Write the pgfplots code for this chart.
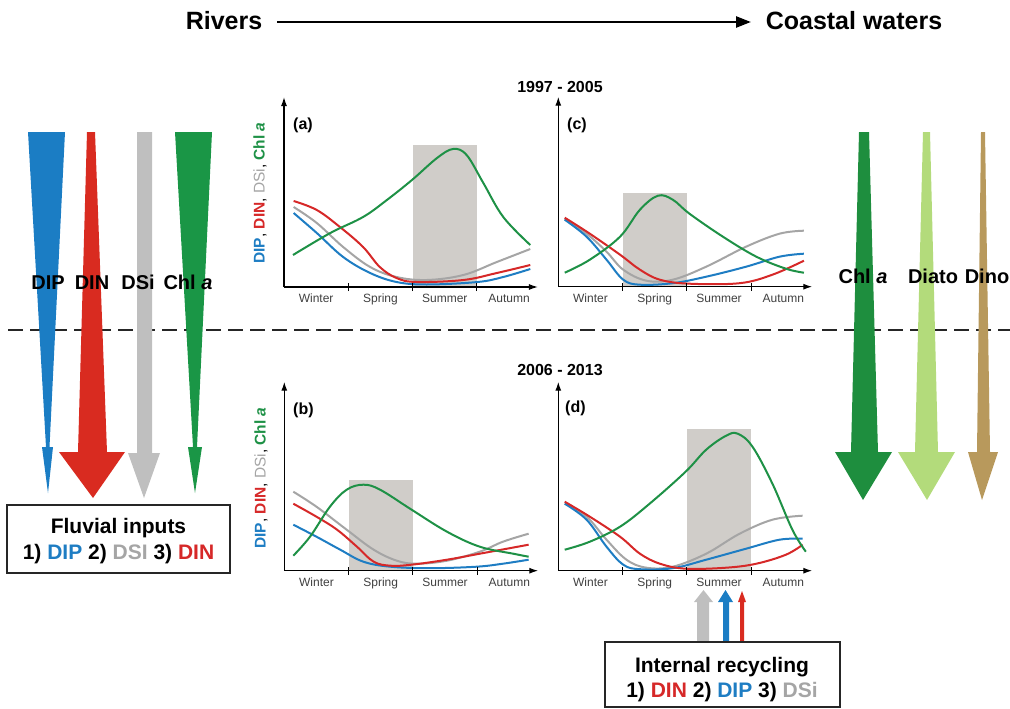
\documentclass[border=0pt]{standalone}
\usepackage{pgfplots}
\pgfplotsset{compat=1.18}
\usetikzlibrary{arrows.meta}
\usepackage{fontspec}
\setmainfont{Liberation Sans}
\definecolor{cblue}{RGB}{30,125,195}
\definecolor{cred}{RGB}{214,40,40}
\definecolor{cgray}{RGB}{165,165,165}
\definecolor{cgreen}{RGB}{30,145,70}
\definecolor{shade}{RGB}{208,205,201}
\definecolor{lblue}{RGB}{27,125,196}
\definecolor{lred}{RGB}{217,43,32}
\definecolor{lgray}{RGB}{191,191,191}
\definecolor{lgreen}{RGB}{26,150,70}
\definecolor{rdgreen}{RGB}{30,142,62}
\definecolor{rlgreen}{RGB}{179,219,123}
\definecolor{rtan}{RGB}{184,153,92}
\newcommand{\fs}[1]{\fontsize{#1}{#1}\selectfont}
\pgfplotsset{
  panel/.style={
    x=64.3pt, y=1pt,
    xmin=0, xmax=3.95, ymin=0, ymax=190,
    axis lines=left,
    axis line style={line width=1.3pt, -{Latex[length=9pt,width=6pt]}},
    xtick={1,2,3}, xticklabels={,,},
    xtick align=center, major tick length=8pt,
    tick style={line width=1pt, black},
    extra x ticks={0.5,1.5,2.5,3.5},
    extra x tick labels={Winter,Spring,Summer,Autumn},
    extra x tick style={major tick length=0pt},
    ytick=\empty,
    tick label style={font=\fs{12}, text=black!75},
    xticklabel style={anchor=north, yshift=-3pt, text height=9pt, text depth=2.5pt},
    axis on top,
    clip=false,
  },
  crv/.style={smooth, tension=0.6, line width=2pt, no marks},
}
\begin{document}
\begin{tikzpicture}[x=1pt,y=1pt]
\path[use as bounding box] (0,0) rectangle (1010,-709);

% header
\node[font=\fs{25}\bfseries, anchor=base] at (224,-30) {Rivers};
\draw[line width=2.5pt, -{Triangle[length=15pt,width=11pt]}] (277,-22) -- (751,-22);
\node[font=\fs{25}\bfseries, anchor=base] at (854,-30) {Coastal waters};
\node[font=\fs{16}\bfseries, anchor=base] at (560,-92.5) {1997 - 2005};
\node[font=\fs{16}\bfseries, anchor=base] at (560,-375) {2006 - 2013};

% dashed separator
\draw[line width=2.5pt, dash pattern=on 15pt off 7pt, black!85] (8,-330) -- (1010,-330);

% left arrows
\fill[lblue] (28,-132) -- (65,-132) -- (49.5,-447) -- (53,-447) -- (48,-493) -- (42,-447) -- (46,-447) -- cycle;
\fill[lred] (87,-132) -- (95,-132) -- (107,-452) -- (125,-452) -- (93,-498) -- (59,-452) -- (78,-452) -- cycle;
\fill[lgray] (137,-132) -- (152,-132) -- (152,-453) -- (160,-453) -- (144,-498) -- (128,-453) -- (137,-453) -- cycle;
\fill[lgreen] (175,-132) -- (212,-132) -- (197,-447) -- (202,-447) -- (195,-493) -- (188,-447) -- (193,-447) -- cycle;

% right arrows
\fill[rdgreen] (859,-132) -- (869,-132) -- (878,-452) -- (892,-452) -- (863,-500) -- (835,-452) -- (851,-452) -- cycle;
\fill[rlgreen] (923,-132) -- (930,-132) -- (938,-452) -- (955,-452) -- (927,-500) -- (898,-452) -- (915,-452) -- cycle;
\fill[rtan] (981,-132) -- (985,-132) -- (990,-452) -- (998,-452) -- (982,-500) -- (968,-452) -- (977,-452) -- cycle;

% arrow labels
\node[font=\fs{20}\bfseries, anchor=base] at (48,-289) {DIP};
\node[font=\fs{20}\bfseries, anchor=base] at (92,-289) {DIN};
\node[font=\fs{20}\bfseries, anchor=base] at (138,-289) {DSi};
\node[font=\fs{20}\bfseries, anchor=base] at (188,-289) {Chl \textit{a}};
\node[font=\fs{20}\bfseries, anchor=base] at (863,-283) {Chl \textit{a}};
\node[font=\fs{20}\bfseries, anchor=base] at (933,-283) {Diato};
\node[font=\fs{20}\bfseries, anchor=base] at (987,-283) {Dino};

% fluvial box
\draw[line width=1.2pt, black!85, fill=white] (7,-505) rectangle (230,-573);
\node[font=\fs{21}\bfseries, anchor=base] at (118.5,-533) {Fluvial inputs};
\node[font=\fs{21}\bfseries, anchor=base] at (118.5,-559) {1) \textcolor{cblue}{DIP} 2) \textcolor{cgray}{DSI} 3) \textcolor{cred}{DIN}};

% internal recycling arrows and box
\fill[lgray] (697,-642) -- (697,-602) -- (694,-602) -- (703.5,-590) -- (713,-602) -- (709,-602) -- (709,-642) -- cycle;
\fill[lblue] (723,-642) -- (723,-602) -- (718,-602) -- (725.5,-590) -- (733,-602) -- (729,-602) -- (729,-642) -- cycle;
\fill[lred] (740,-642) -- (740,-602) -- (738,-602) -- (742,-591) -- (746,-602) -- (744,-602) -- (744,-642) -- cycle;
\draw[line width=1.2pt, black!85, fill=white] (605,-642) rectangle (840,-707);
\node[font=\fs{21}\bfseries, anchor=base] at (722,-672) {Internal recycling};
\node[font=\fs{21}\bfseries, anchor=base] at (722,-697) {1) \textcolor{cred}{DIN} 2) \textcolor{cblue}{DIP} 3) \textcolor{cgray}{DSi}};

% y labels
\node[font=\fs{15.5}, rotate=90, anchor=center] at (260,-193) {\textbf{\textcolor{cblue}{DIP}}, \textbf{\textcolor{cred}{DIN}}, \textcolor{cgray}{DSi}, \textbf{\textcolor{cgreen}{Chl \textit{a}}}};
\node[font=\fs{15.5}, rotate=90, anchor=center] at (261,-478) {\textbf{\textcolor{cblue}{DIP}}, \textbf{\textcolor{cred}{DIN}}, \textcolor{cgray}{DSi}, \textbf{\textcolor{cgreen}{Chl \textit{a}}}};

% panel labels
\node[font=\fs{16}\bfseries, anchor=base west, inner sep=0pt] at (293,-129) {(a)};
\node[font=\fs{16}\bfseries, anchor=base west, inner sep=0pt] at (567,-129) {(c)};
\node[font=\fs{16}\bfseries, anchor=base west, inner sep=0pt] at (293,-414) {(b)};
\node[font=\fs{16}\bfseries, anchor=base west, inner sep=0pt] at (565,-412) {(d)};

% ---- panel (a)
\begin{axis}[panel, at={(284pt,-287pt)}, anchor=south west]
\addplot[fill=shade, draw=none] coordinates {(2,0) (2,142) (3,142) (3,0)} -- cycle;
\addplot[crv, cgray] coordinates {(0.15,80)(0.51,64)(0.92,40)(1.34,20)(1.75,10)(2.22,7)(2.79,12)(3.31,25)(3.83,38)};
\addplot[crv, cblue] coordinates {(0.15,74)(0.51,54)(0.92,30)(1.34,14)(1.75,5)(2.22,2.5)(3.01,5)(3.41,10)(3.83,18)};
\addplot[crv, cred] coordinates {(0.15,86)(0.51,77)(0.87,60)(1.23,40)(1.49,20)(1.75,9)(2.06,5)(2.79,7)(3.31,14)(3.83,22)};
\addplot[crv, cgreen] coordinates {(0.14,32)(0.72,54)(1.23,70)(1.60,87)(1.99,107)(2.38,129)(2.63,138)(2.84,132)(3.10,104)(3.41,70)(3.83,42)};
\end{axis}

% ---- panel (c)
\begin{axis}[panel, at={(558.3pt,-286.7pt)}, anchor=south west]
\addplot[fill=shade, draw=none] coordinates {(1,0) (1,94) (2,94) (2,0)} -- cycle;
\addplot[crv, cgray] coordinates {(0.10,68)(0.44,53)(0.75,35)(1.01,17)(1.37,6)(1.78,7)(2.30,20)(2.92,40)(3.44,53)(3.82,56)};
\addplot[crv, cblue] coordinates {(0.10,67)(0.44,50)(0.75,27)(1.01,7)(1.27,2)(1.78,3.5)(2.30,10)(2.92,20)(3.44,30)(3.82,33)};
\addplot[crv, cred] coordinates {(0.10,69)(0.49,53)(0.96,32)(1.27,17)(1.58,7)(2.04,3)(2.82,3.5)(3.33,12)(3.82,26)};
\addplot[crv, cgreen] coordinates {(0.10,14)(0.49,27)(0.96,50)(1.27,77)(1.55,91)(1.78,87)(2.04,73)(2.56,50)(3.08,30)(3.54,18)(3.82,14)};
\end{axis}

% ---- panel (b)
\begin{axis}[panel, at={(284.3pt,-570.7pt)}, anchor=south west, ymax=189]
\addplot[fill=shade, draw=none] coordinates {(1,0) (1,91) (2,91) (2,0)} -- cycle;
\addplot[crv, cgray] coordinates {(0.14,79)(0.50,64)(0.97,41)(1.39,21)(1.75,10)(2.06,7)(2.53,10)(3.04,19)(3.40,29)(3.80,37)};
\addplot[crv, cblue] coordinates {(0.14,46)(0.50,34)(0.87,21)(1.23,9)(1.65,4)(2.27,2.5)(2.99,4)(3.40,7)(3.80,11)};
\addplot[crv, cred] coordinates {(0.14,67)(0.50,54)(0.82,41)(1.13,24)(1.39,9)(1.65,5)(1.98,6)(2.53,11)(3.04,17)(3.80,26)};
\addplot[crv, cgreen] coordinates {(0.14,15)(0.40,34)(0.71,64)(0.97,81)(1.23,86)(1.49,81)(1.98,61)(2.53,39)(3.04,24)(3.56,17)(3.80,14)};
\end{axis}

% ---- panel (d)
\begin{axis}[panel, at={(558.3pt,-570.7pt)}, anchor=south west, ymax=189]
\addplot[fill=shade, draw=none] coordinates {(2,0) (2,142) (3,142) (3,0)} -- cycle;
\addplot[crv, cgray] coordinates {(0.10,67)(0.44,54)(0.75,31)(1.06,11)(1.37,3)(1.78,4)(2.30,17)(2.82,37)(3.33,51)(3.80,55)};
\addplot[crv, cblue] coordinates {(0.10,67)(0.44,51)(0.75,24)(1.01,6)(1.27,1.5)(1.78,2.5)(2.30,11)(2.92,22)(3.44,31)(3.80,32)};
\addplot[crv, cred] coordinates {(0.10,69)(0.49,54)(0.96,34)(1.27,17)(1.58,7)(1.98,2)(2.61,3)(3.08,7)(3.54,16)(3.80,26)};
\addplot[crv, cgreen] coordinates {(0.10,21)(0.49,29)(0.96,44)(1.42,67)(1.98,99)(2.30,121)(2.61,135)(2.79,137)(3.02,124)(3.33,87)(3.64,41)(3.85,19)};
\end{axis}
\end{tikzpicture}
\end{document}
